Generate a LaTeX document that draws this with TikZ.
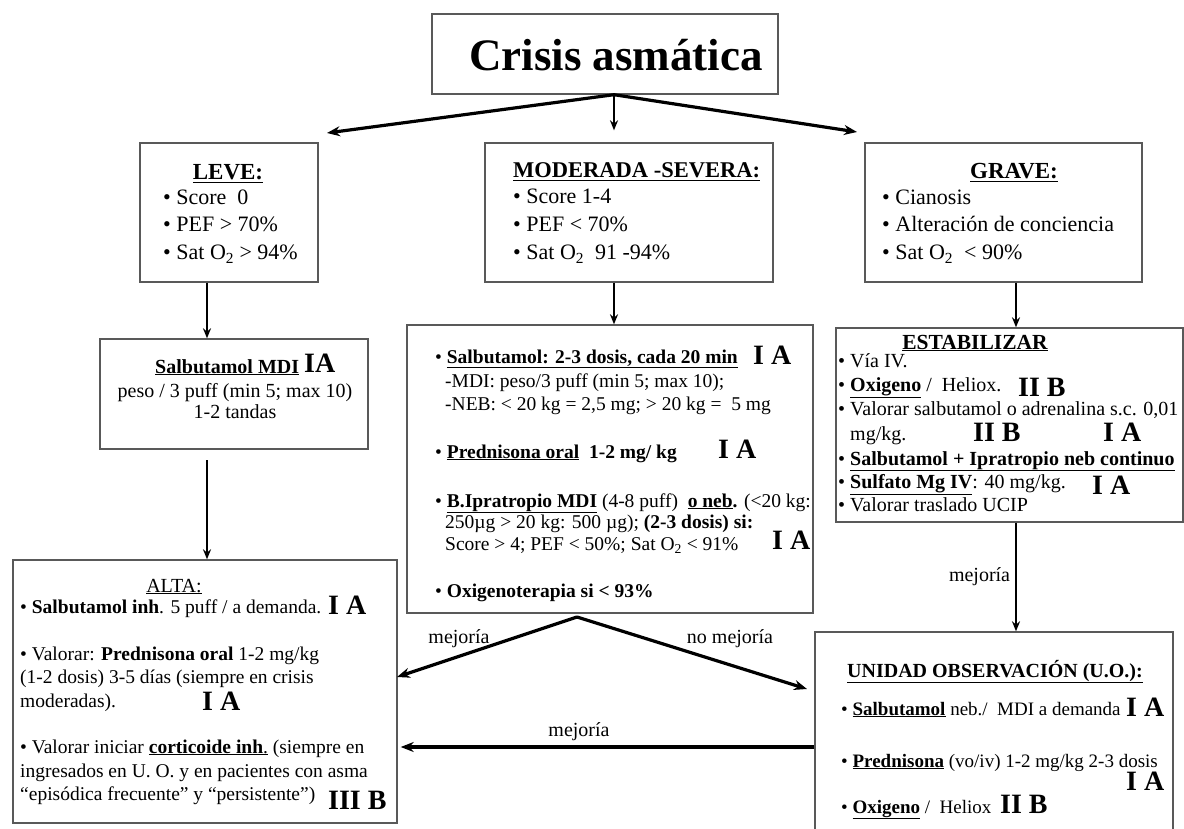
\documentclass[tikz,border=0pt]{standalone}
\usepackage{fontspec}
\setmainfont{Liberation Serif}
\usetikzlibrary{arrows.meta}

\begin{document}
\begin{tikzpicture}[x=1pt, y=-1pt, box/.style={draw=black!65, line width=1.4pt, inner sep=0pt}, txt/.style={anchor=base west, inner sep=0pt}, mid/.style={anchor=base, inner sep=0pt}, sz/.style={font=\fontsize{#1}{#1}\selectfont}, grade/.style={anchor=base west, inner sep=0pt, font=\bfseries\fontsize{28}{28}\selectfont}, fat/.style={-{Stealth[length=13pt,width=10pt]}, line width=3.2pt}, down/.style={-{Stealth[length=10pt,width=8pt]}, line width=1.8pt}, lbl/.style={anchor=base, inner sep=0pt, font=\fontsize{20}{20}\selectfont}]
\useasboundingbox (0,0) rectangle (1184,829);

% title
\node[box, minimum width=346, minimum height=80] (title) at (605,54) {};
\node[mid, font=\bfseries\fontsize{45}{45}\selectfont] (titleT) at (616,71) {Crisis asmática};

% severity boxes
\node[box, minimum width=178, minimum height=139] (leve) at (229,212.5) {};
\node[mid, font=\bfseries\fontsize{23}{23}\selectfont] (leveH) at (228,180) {\underline{LEVE:}};
\node[txt, sz=22] (leveA) at (163,205) {\textbullet\ Score\ \ 0};
\node[txt, sz=22] (leveB) at (163,232) {\textbullet\ PEF > 70\%};
\node[txt, sz=22] (leveC) at (163,260) {\textbullet\ Sat O\textsubscript{2} > 94\%};

\node[box, minimum width=288, minimum height=139] (mod) at (629,212.5) {};
\node[txt, font=\bfseries\fontsize{22.5}{23}\selectfont] (modH) at (513,178) {\underline{MODERADA -SEVERA:}};
\node[txt, sz=22] (modA) at (513,204) {\textbullet\ Score 1-4};
\node[txt, sz=22] (modB) at (513,232) {\textbullet\ PEF < 70\%};
\node[txt, sz=22] (modC) at (513,260) {\textbullet\ Sat O\textsubscript{2}\ \ 91 -94\%};

\node[box, minimum width=277, minimum height=139] (grave) at (1003.5,212.5) {};
\node[mid, font=\bfseries\fontsize{23}{23}\selectfont] (graveH) at (1014,179) {\underline{GRAVE:}};
\node[txt, sz=22] (graveA) at (882,205) {\textbullet\ Cianosis};
\node[txt, sz=22] (graveB) at (882,232) {\textbullet\ Alteración de conciencia};
\node[txt, sz=22] (graveC) at (882,260) {\textbullet\ Sat O\textsubscript{2}\ \ < 90\%};

% LEVE treatment
\node[box, minimum width=268, minimum height=110] (salb) at (234,394) {};
\node[txt, font=\bfseries\fontsize{20}{20}\selectfont] (salbH) at (155,373) {\underline{Salbutamol MDI}};
\node[grade] (salbG) at (304,372) {IA};
\node[mid, sz=20] (salbA) at (235,397) {peso / 3 puff (min 5; max 10)};
\node[mid, sz=20] (salbB) at (235,418) {1-2 tandas};

% MODERADA treatment
\node[box, minimum width=406, minimum height=288] (big) at (610,469) {};
\node[txt, sz=19.5] (bigA) at (435,363) {\textbullet\ \underline{\textbf{Salbutamol: 2-3 dosis, cada 20 min}}};
\node[grade] (bigAg) at (753,364) {I A};
\node[txt, sz=19.5] (bigB) at (445,387) {-MDI: peso/3 puff (min 5; max 10);};
\node[txt, sz=19.5] (bigC) at (445,410) {-NEB: < 20 kg = 2,5 mg; > 20 kg =\ \ 5 mg};
\node[txt, sz=19.5] (bigD) at (435,458) {\textbullet\ \underline{\textbf{Prednisona oral}}\ \ \textbf{1-2 mg/ kg}};
\node[grade] (bigDg) at (718,458) {I A};
\node[txt, sz=19.5] (bigE) at (435,507) {\textbullet\ \underline{\textbf{B.Ipratropio MDI}} (4-8 puff)\ \ \underline{\textbf{o neb}}\textbf{.} (<20 kg:};
\node[txt, sz=19.5] (bigF) at (445,528) {250µg > 20 kg: 500 µg); \textbf{(2-3 dosis) si:}};
\node[txt, sz=19.5] (bigG) at (445,550) {Score > 4; PEF < 50\%; Sat O\textsubscript{2} < 91\%};
\node[grade] (bigGg) at (772,549) {I A};
\node[txt, sz=19.5] (bigH) at (435,597) {\textbullet\ \textbf{Oxigenoterapia si < 93\%}};

% GRAVE treatment
\node[box, minimum width=347, minimum height=194] (est) at (1009.5,425) {};
\node[mid, font=\bfseries\fontsize{21.5}{22}\selectfont] (estH) at (975,349) {\underline{ESTABILIZAR}};
\node[txt, sz=20] (estA) at (838,367) {\textbullet\ Vía IV.};
\node[txt, sz=20] (estB) at (838,391) {\textbullet\ \underline{\textbf{Oxigeno}} /\ \ Heliox.};
\node[grade] (estBg) at (1018,396) {II B};
\node[txt, sz=20] (estC) at (838,415) {\textbullet\ Valorar salbutamol o adrenalina s.c. 0,01};
\node[txt, sz=20] (estD) at (850,440) {mg/kg.};
\node[grade] (estDg) at (973,441) {II B};
\node[grade] (estDh) at (1103,441) {I A};
\node[txt, sz=20] (estE) at (838,465) {\textbullet\ \underline{\textbf{Salbutamol + Ipratropio neb continuo}}};
\node[txt, sz=20] (estF) at (838,488) {\textbullet\ \underline{\textbf{Sulfato Mg IV}}: 40 mg/kg.};
\node[grade] (estFg) at (1092,494) {I A};
\node[txt, sz=20] (estG) at (838,511) {\textbullet\ Valorar traslado UCIP};

% observation unit
\node[box, minimum width=358, minimum height=210] (uo) at (994,737) {};
\node[mid, font=\bfseries\fontsize{20}{20}\selectfont] (uoH) at (995,677) {\underline{UNIDAD OBSERVACIÓN (U.O.):}};
\node[txt, sz=19] (uoA) at (841,715) {\textbullet\ \underline{\textbf{Salbutamol}} neb./\ \ MDI a demanda};
\node[grade] (uoAg) at (1126,716) {I A};
\node[txt, sz=19] (uoB) at (841,767) {\textbullet\ \underline{\textbf{Prednisona}} (vo/iv) 1-2 mg/kg 2-3 dosis};
\node[grade] (uoBg) at (1126,790) {I A};
\node[txt, sz=19] (uoC) at (841,813) {\textbullet\ \underline{\textbf{Oxigeno}} /\ \ Heliox};
\node[grade] (uoCg) at (1000,813) {II B};

% discharge
\node[box, minimum width=384, minimum height=263] (alta) at (205,691.5) {};
\node[mid, sz=20] (altaH) at (174,592) {\underline{ALTA:}};
\node[txt, sz=19.5] (altaA) at (20,613) {\textbullet\ \textbf{Salbutamol inh}. 5 puff / a demanda.};
\node[grade] (altaAg) at (328,614) {I A};
\node[txt, sz=19.5] (altaB) at (20,660) {\textbullet\ Valorar: \textbf{Prednisona oral} 1-2 mg/kg};
\node[txt, sz=19.5] (altaC) at (20,683) {(1-2 dosis) 3-5 días (siempre en crisis};
\node[txt, sz=19.5] (altaD) at (20,707) {moderadas).};
\node[grade] (altaDg) at (202,710) {I A};
\node[txt, sz=19.5] (altaE) at (20,753) {\textbullet\ Valorar iniciar \underline{\textbf{corticoide inh}.} (siempre en};
\node[txt, sz=19.5] (altaF) at (20,777) {ingresados en U. O. y en pacientes con asma};
\node[txt, sz=19.5] (altaG) at (20,800) {“episódica frecuente” y “persistente”)};
\node[grade] (altaGg) at (328,809) {III B};

% connectors
\coordinate (toLeve) at (327,133);
\coordinate (toGrave) at (857,132);
\coordinate (midX) at (614,0);
\coordinate (leftX) at (207,0);
\coordinate (rightX) at (1016,0);
\coordinate (salbOut) at (207,460);
\coordinate (fork) at (577,617);
\coordinate (toAlta) at (397,677);
\coordinate (toUO) at (807,689);
\coordinate (level) at (0,747);
\draw[fat] (title.south -| midX) -- (toLeve);
\draw[fat] (title.south -| midX) -- (toGrave);
\draw[down] (title.south -| midX) -- ([yshift=12pt]mod.north -| midX);
\draw[down] (leve.south -| leftX) -- (salb.north -| leftX);
\draw[down] (salbOut) -- (alta.north -| salbOut);
\draw[down] (mod.south -| midX) -- (big.north -| midX);
\draw[down] (grave.south -| rightX) -- (est.north -| rightX);
\draw[down] (est.south -| rightX) -- (uo.north -| rightX) node[lbl, pos=0.5, left=5pt] (lblA) {mejoría};
\draw[fat] (fork) -- (toAlta);
\draw[fat] (fork) -- (toUO);
\draw[fat] (uo.west |- level) -- ([xshift=3pt]alta.east |- level);
\node[lbl] (lblB) at (459,643) {mejoría};
\node[lbl] (lblC) at (730,643) {no mejoría};
\node[lbl] (lblD) at (579,736) {mejoría};
\end{tikzpicture}
\end{document}
